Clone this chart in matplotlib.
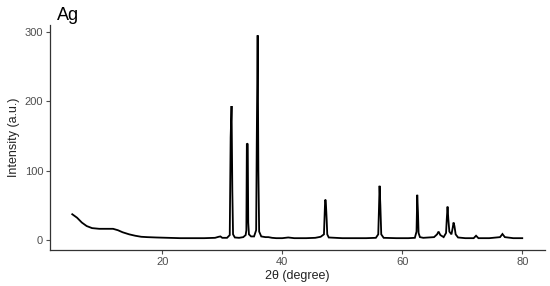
import matplotlib
matplotlib.use("Agg")
import matplotlib.pyplot as plt

plt.rcParams['font.family'] = ['Liberation Sans', 'DejaVu Sans']

# XRD pattern points (2theta in degree, intensity in a.u.)
two_theta = [5.0, 5.8, 6.6, 7.4, 8.3, 9.5, 10.8, 11.8, 12.6, 13.4, 14.5, 15.5, 16.5, 17.5, 19.0, 21.0, 23.0, 25.0, 27.0,
             28.8, 29.4, 29.7, 30.0, 30.8, 31.25, 31.4, 31.55, 31.68, 31.8, 32.1, 32.8, 33.5, 33.9, 34.02,
             34.1, 34.25, 34.33, 34.45, 34.8, 35.3, 35.65, 35.75, 35.9, 36.02, 36.15, 36.5, 37.2, 37.7, 38.3,
             39.0, 40.0, 41.0, 42.0, 44.0, 45.5, 46.4, 46.95, 47.15, 47.25, 47.4, 47.5, 47.75, 50.0, 52.0,
             54.0, 55.6, 56.0, 56.12, 56.22, 56.35, 56.5, 56.9, 59.0, 61.0, 62.1, 62.38, 62.5, 62.62, 62.72,
             62.95, 63.5, 65.3, 65.8, 66.05, 66.35, 66.9, 67.3, 67.42, 67.55, 67.68, 67.85, 68.2, 68.42,
             68.55, 68.7, 68.9, 69.3, 70.5, 71.9, 72.3, 72.7, 74.5, 76.3, 76.7, 77.1, 78.5, 80.0]
intensity = [37, 32, 25, 20, 17, 16, 16, 16, 14, 11, 8, 6, 4.5, 4, 3.5, 3, 2.5, 2.5, 2.5,
             3, 4.5, 5, 3, 3, 7, 148, 193, 70, 8, 3.5, 3, 4, 7, 14,
             139, 138, 25, 8, 5, 5, 14, 140, 295, 100, 12, 5, 4, 4, 3,
             2.5, 2.5, 3.5, 2.5, 2.5, 3, 4.5, 8, 58, 57, 30, 8, 3.5, 2.5, 2.5,
             2.5, 3, 8, 45, 78, 50, 8, 3, 2.5, 2.5, 3, 12, 65, 40, 10,
             4, 3, 4, 8, 12, 7, 4, 10, 30, 48, 30, 12, 8, 18,
             25, 20, 8, 3.5, 2.5, 2.5, 6, 2.5, 2.5, 4, 8.5, 4, 2.5, 2.5]

x_ticks = [20, 40, 60, 80]
y_ticks = [0, 100, 200, 300]

fig = plt.figure(figsize=(5.5, 2.86), dpi=100)
ax = fig.add_axes([0.091, 0.126, 0.900, 0.787])
ax.plot(two_theta, intensity, color="black", lw=1.3, solid_joinstyle="miter")

ax.set_xlim(1.3, 83.8)
ax.set_ylim(-14.5, 310)
ax.set_xticks(x_ticks)
ax.set_yticks(y_ticks)
ax.tick_params(colors="#4D4D4D", labelsize=8, length=3, width=0.8, pad=2)
for s in ["top", "right"]:
    ax.spines[s].set_visible(False)
for s in ["left", "bottom"]:
    ax.spines[s].set_color("#333333")
    ax.spines[s].set_linewidth(0.9)

ax.set_xlabel("2θ (degree)", fontsize=9, color="#222222", labelpad=2)
ax.set_ylabel("Intensity (a.u.)", fontsize=9, color="#222222", labelpad=3)

fig.text(0.104, 0.975, "Ag", fontsize=13, va="top", ha="left", color="black")

fig.savefig("out.png", dpi=100)
